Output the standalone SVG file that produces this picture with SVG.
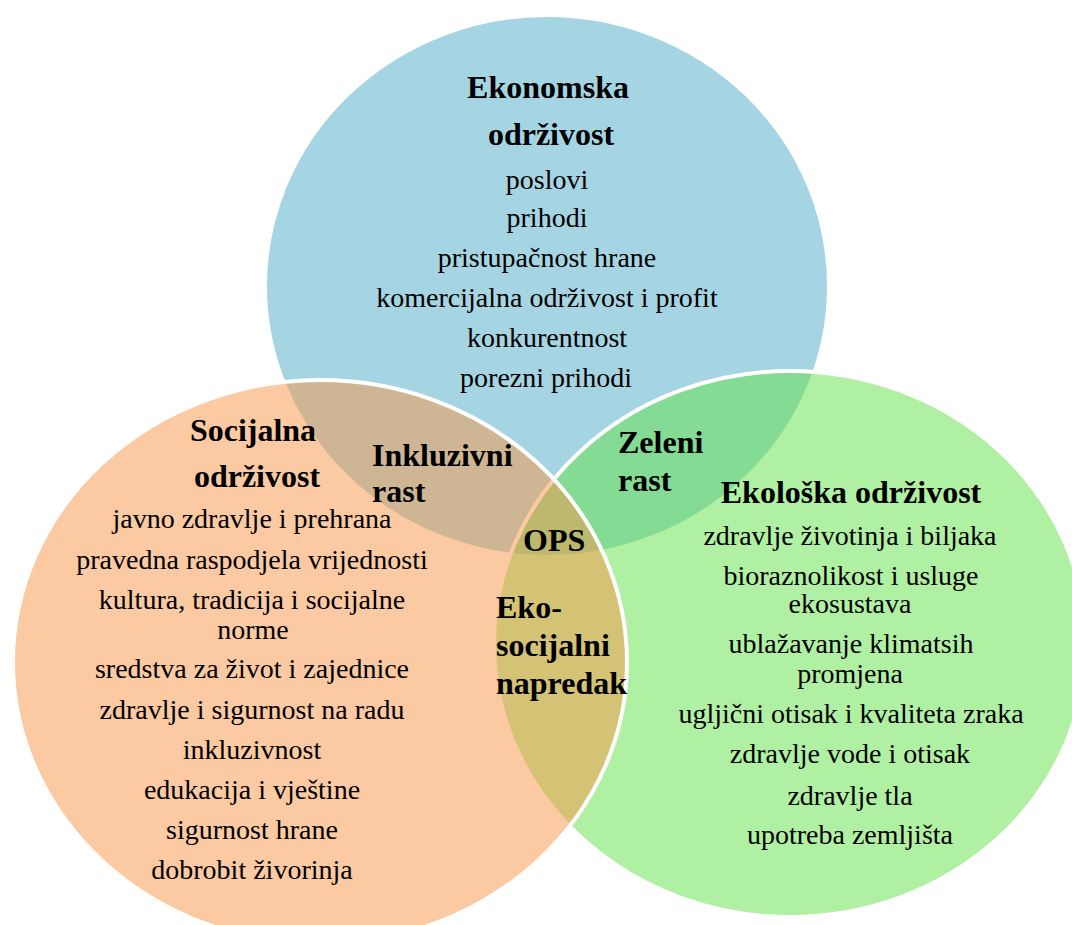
<svg xmlns="http://www.w3.org/2000/svg" width="1072" height="925" viewBox="0 0 1072 925">
<style>
.c{fill-opacity:0.5;stroke:#ffffff;stroke-width:4}
text{font-family:"Liberation Serif","Times New Roman",serif;fill:#000000}
.t{font-size:32px;font-weight:bold}
.b{font-size:28px}
.m{text-anchor:middle}
</style>
<rect width="1072" height="925" fill="#ffffff"/>
<g id="economic">
<ellipse class="c" cx="547" cy="286" rx="282" ry="271" fill="#4BACC6"/>
<g class="m">
<text class="t" x="548" y="98">Ekonomska</text>
<text class="t" x="551" y="145">održivost</text>
<text class="b" x="547" y="189">poslovi</text>
<text class="b" x="547" y="227">prihodi</text>
<text class="b" x="547" y="267">pristupačnost hrane</text>
<text class="b" x="547" y="307">komercijalna održivost i profit</text>
<text class="b" x="547" y="347">konkurentnost</text>
<text class="b" x="546" y="387">porezni prihodi</text>
</g>
</g>
<g id="ecological">
<ellipse class="c" cx="790" cy="644" rx="296" ry="273" fill="#61E145"/>
<g class="m">
<text class="t" x="851" y="503">Ekološka održivost</text>
<text class="b" x="850" y="545">zdravlje životinja i biljaka</text>
<text class="b" x="851" y="585">bioraznolikost i usluge</text>
<text class="b" x="850" y="613">ekosustava</text>
<text class="b" x="851" y="653">ublažavanje klimatsih</text>
<text class="b" x="850" y="683">promjena</text>
<text class="b" x="851" y="723">ugljični otisak i kvaliteta zraka</text>
<text class="b" x="850" y="763">zdravlje vode i otisak</text>
<text class="b" x="850" y="805">zdravlje tla</text>
<text class="b" x="850" y="844">upotreba zemljišta</text>
</g>
</g>
<g id="social">
<ellipse class="c" cx="320" cy="662" rx="307" ry="282" fill="#F79646"/>
<g class="m">
<text class="t" x="253" y="441">Socijalna</text>
<text class="t" x="257" y="487">održivost</text>
<text class="b" x="252" y="528">javno zdravlje i prehrana</text>
<text class="b" x="252" y="569">pravedna raspodjela vrijednosti</text>
<text class="b" x="252" y="609">kultura, tradicija i socijalne</text>
<text class="b" x="253" y="639">norme</text>
<text class="b" x="252" y="678">sredstva za život i zajednice</text>
<text class="b" x="252" y="719">zdravlje i sigurnost na radu</text>
<text class="b" x="252" y="759">inkluzivnost</text>
<text class="b" x="252" y="799">edukacija i vještine</text>
<text class="b" x="252" y="839">sigurnost hrane</text>
<text class="b" x="252" y="879">dobrobit živorinja</text>
</g>
</g>
<g id="inclusive-growth">
<text class="t" x="372" y="466">Inkluzivni</text>
<text class="t" x="372" y="502">rast</text>
</g>
<g id="green-growth">
<text class="t" x="618" y="453">Zeleni</text>
<text class="t" x="618" y="491">rast</text>
</g>
<g id="ops">
<text class="t" x="523" y="551">OPS</text>
</g>
<g id="eco-social-progress">
<text class="t" x="496" y="618">Eko-</text>
<text class="t" x="496" y="656">socijalni</text>
<text class="t" x="496" y="694">napredak</text>
</g>
<g id="connectors"/>
</svg>
